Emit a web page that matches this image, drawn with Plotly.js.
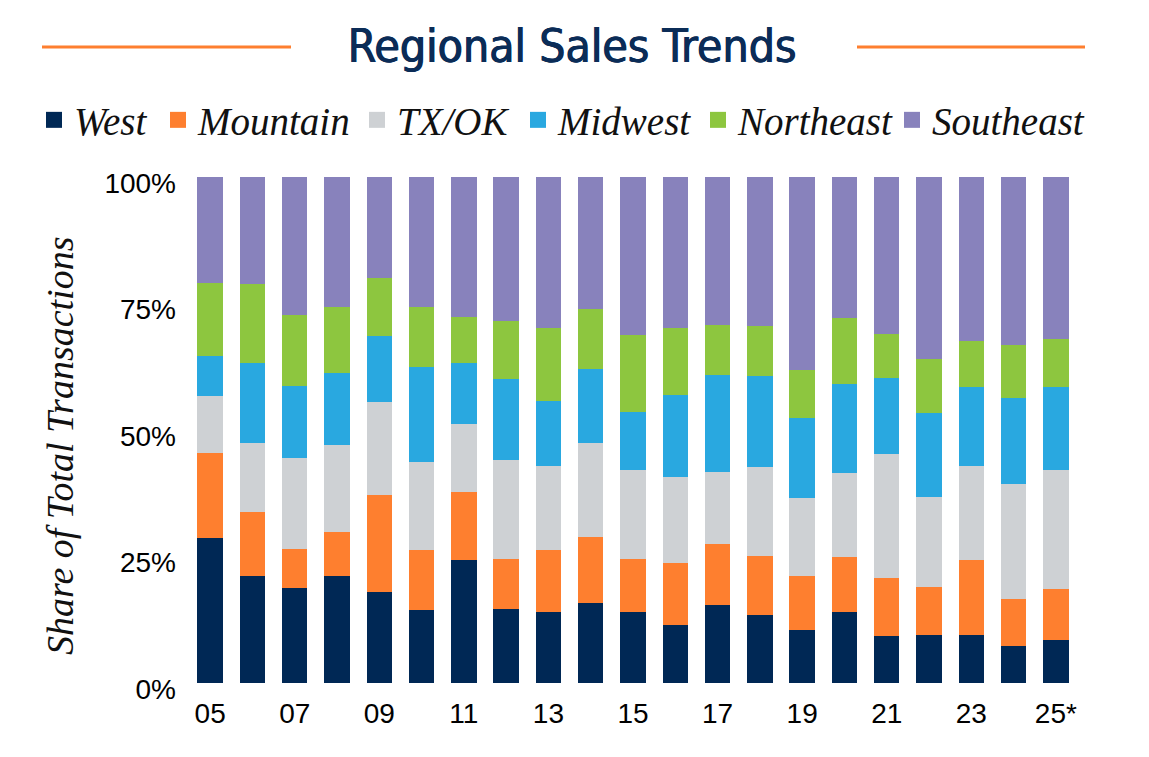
<!DOCTYPE html>
<html>
<head>
<meta charset="utf-8">
<script src="https://cdn.plot.ly/plotly-3.0.1.min.js"></script>
<style>
  html, body { margin: 0; padding: 0; background: #fff; }
  #chart { width: 1149px; height: 757px; }
</style>
</head>
<body>
<div id="chart"></div>
<script>
// years 2005 - 2025 (25 = estimate)
const years = ['05','06','07','08','09','10','11','12','13','14','15',
               '16','17','18','19','20','21','22','23','24','25*'];
const tickLabels = ['05','07','09','11','13','15','17','19','21','23','25*'];
const yTicks = [0, 25, 50, 75, 100];
const yTickText = ['0%', '25%', '50%', '75%', '100%'];

// share of transactions by region, %
const west      = [28.6, 21.1, 18.7, 21.1, 18.0, 14.4, 24.3, 14.6, 14.0, 15.8, 14.0,
                   11.4, 15.4, 13.4, 10.4, 14.0,  9.2,  9.4,  9.4,  7.3,  8.5];
const mountain  = [16.9, 12.7,  7.8,  8.7, 19.1, 11.9, 13.4,  9.9, 12.3, 13.0, 10.5,
                   12.3, 12.1, 11.7, 10.7, 10.9, 11.5,  9.5, 14.9,  9.3, 10.0];
const txok      = [11.2, 13.6, 18.0, 17.2, 18.4, 17.3, 13.5, 19.6, 16.5, 18.6, 17.5,
                   17.0, 14.2, 17.5, 15.5, 16.6, 24.6, 17.9, 18.5, 22.7, 23.5];
const midwest   = [ 7.9, 15.8, 14.2, 14.2, 13.1, 18.8, 12.0, 16.0, 12.9, 14.6, 11.5,
                   16.2, 19.2, 18.1, 15.7, 17.6, 15.0, 16.5, 15.7, 17.0, 16.5];
const northeast = [14.5, 15.7, 14.0, 13.1, 11.4, 11.9,  9.1, 11.4, 14.5, 11.9, 15.3,
                   13.3,  9.8,  9.8,  9.5, 13.0,  8.7, 10.7,  9.1, 10.5,  9.5];
const southeast = [20.9, 21.1, 27.3, 25.7, 20.0, 25.7, 27.7, 28.5, 29.8, 26.1, 31.2,
                   29.8, 29.3, 29.5, 38.2, 27.9, 31.0, 36.0, 32.4, 33.2, 32.0];

const regions = ['West', 'Mountain', 'TX/OK', 'Midwest', 'Northeast', 'Southeast'];
const series  = [west, mountain, txok, midwest, northeast, southeast];
const colors  = ['#002855', '#fe7f2f', '#ced1d4', '#29a8e0', '#8dc63f', '#8882bc'];

// pixel layout of the plot area
const W = 1149, H = 757;
const mL = 189, mR = 72, mT = 177, mB = 74;
const pw = W - mL - mR, ph = H - mT - mB;
const px = x => (x - mL) / pw;          // container px -> paper x
const py = y => (H - mB - y) / ph;      // container px -> paper y

// left edge (px) where each legend text starts in the reference
const legendTextX = [75, 199, 398, 559, 739, 933];
const legendKey = i => (i === 0 ? 'legend' : 'legend' + (i + 1));

const traces = regions.map((name, i) => ({
    type: 'bar',
    name: name,
    x: years,
    y: series[i],
    marker: { color: colors[i], line: { width: 0 } },
    showlegend: false,
    hoverinfo: 'name+y'
}));

// legend entries: bigger square keys than the bar legend gives
regions.forEach((name, i) => {
    traces.push({
        type: 'scatter',
        mode: 'markers',
        name: name,
        x: [years[0]],
        y: [null],
        marker: { symbol: 'square', size: 16, color: colors[i] },
        legend: legendKey(i),
        showlegend: true,
        hoverinfo: 'skip'
    });
});

const orangeLine = (x0, x1) => ({
    type: 'line', xref: 'paper', yref: 'paper',
    x0: px(x0), x1: px(x1), y0: py(47), y1: py(47),
    line: { color: '#fe7f2f', width: 3 }
});

const layout = {
    width: W,
    height: H,
    margin: { l: mL, r: mR, t: mT, b: mB },
    paper_bgcolor: '#fff',
    plot_bgcolor: '#fff',
    barmode: 'stack',
    barnorm: 'percent',
    bargap: 0.4,
    title: {
        text: 'Regional Sales Trends',
        xref: 'container', yref: 'container',
        x: 572 / W, y: 1 - 46 / H,
        xanchor: 'center', yanchor: 'middle',
        font: { family: '"DejaVu Sans Condensed", "Liberation Sans Narrow", Roboto, sans-serif',
                size: 46, color: '#0b2c57', weight: 'normal',
                shadow: '0.7px 0 0 #0b2c57, -0.4px 0 0 #0b2c57' }
    },
    showlegend: true,
    xaxis: {
        type: 'category',
        range: [-0.5, years.length - 0.5],
        tickmode: 'array',
        tickvals: tickLabels,
        ticktext: tickLabels,
        showgrid: false,
        zeroline: false,
        showline: false,
        ticks: '',
        ticklabelstandoff: 11,
        tickfont: { family: '"Liberation Sans", Arial, sans-serif', size: 28, color: '#000' }
    },
    yaxis: {
        range: [0, 100],
        tickmode: 'array',
        tickvals: yTicks,
        ticktext: yTickText,
        showgrid: false,
        zeroline: false,
        showline: false,
        ticks: '',
        ticklabelstandoff: 12,
        ticklabelshift: 6,
        tickfont: { family: '"Liberation Sans", Arial, sans-serif', size: 28, color: '#000' }
    },
    annotations: [{
        text: 'Share of Total Transactions',
        xref: 'paper', yref: 'paper',
        x: px(60), y: py(446),
        xanchor: 'center', yanchor: 'middle',
        textangle: -90,
        showarrow: false,
        font: { family: '"Liberation Serif", "DejaVu Serif", serif',
                size: 38, color: '#111', style: 'italic' }
    }],
    shapes: [orangeLine(42, 291), orangeLine(857, 1085)]
};

legendTextX.forEach((tx, i) => {
    layout[legendKey(i)] = {
        orientation: 'h',
        xref: 'container', yref: 'container',
        x: (tx - 41) / W, y: 1 - 120 / H,
        xanchor: 'left', yanchor: 'middle',
        bgcolor: 'rgba(0,0,0,0)',
        font: { family: '"Liberation Serif", "DejaVu Serif", serif',
                size: 39, color: '#111', style: 'italic' }
    };
});

Plotly.newPlot('chart', traces, layout, { displayModeBar: false, staticPlot: true });
</script>
</body>
</html>
